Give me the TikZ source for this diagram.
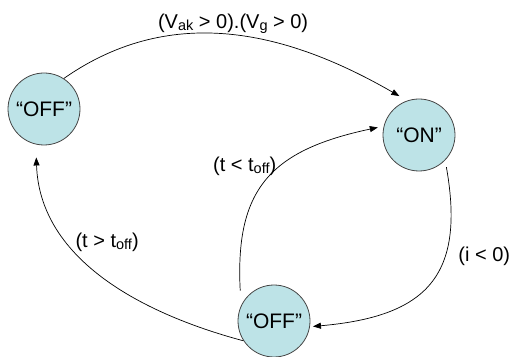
\documentclass[tikz,border=0pt]{standalone}
\usepackage{fontspec}
\setmainfont{Liberation Sans}
\usetikzlibrary{arrows.meta}

\definecolor{stfill}{RGB}{189,227,231}
\definecolor{stline}{RGB}{70,70,70}
\newcommand{\lowsub}[1]{\raisebox{-2pt}{\fontsize{14.5}{14.5}\selectfont #1}}

\tikzset{
  state/.style={circle, draw=stline, fill=stfill, line width=0.8pt,
    minimum size=72pt, inner sep=0pt, font=\fontsize{21}{21}\selectfont},
  trans/.style={-{Triangle[length=8pt,width=6pt]}, line width=0.7pt},
  cond/.style={font=\fontsize{20}{20}\selectfont, inner sep=2pt}
}

\begin{document}
\begin{tikzpicture}[x=1pt, y=1pt]
    \useasboundingbox (0,0) rectangle (511,356);
    \node[state] (off1) at (44,247) {“OFF”};
    \node[state] (on)   at (419,221) {“ON”};
    \node[state] (off2) at (274,35) {“OFF”};
    % firing
    \draw[trans, shorten >=9pt] (off1.57) to[out=35, in=150]
        node[cond, midway, above] {(V\lowsub{ak} > 0).(V\lowsub{g} > 0)} (on.109);
    % reverse current
    \draw[trans, shorten <=7pt, shorten >=3pt] (on.-44) to[out=-80, in=5, looseness=1.4]
        node[cond, pos=0.35, anchor=west, xshift=12pt] {(i < 0)} (off2.-9);
    % recovery not finished
    \draw[trans, shorten <=15pt, shorten >=6pt] (off2.155) to[out=93, in=192, looseness=1.3]
        node[cond, pos=0.6, anchor=east, xshift=-4pt] {(t < t\lowsub{off})} (on.166);
    % recovery finished
    \draw[trans, shorten >=13pt] (off2.213) to[out=165, in=-88]
        node[cond, pos=0.65, anchor=west, xshift=3pt] {(t > t\lowsub{off})} (off1.257);
\end{tikzpicture}
\end{document}
